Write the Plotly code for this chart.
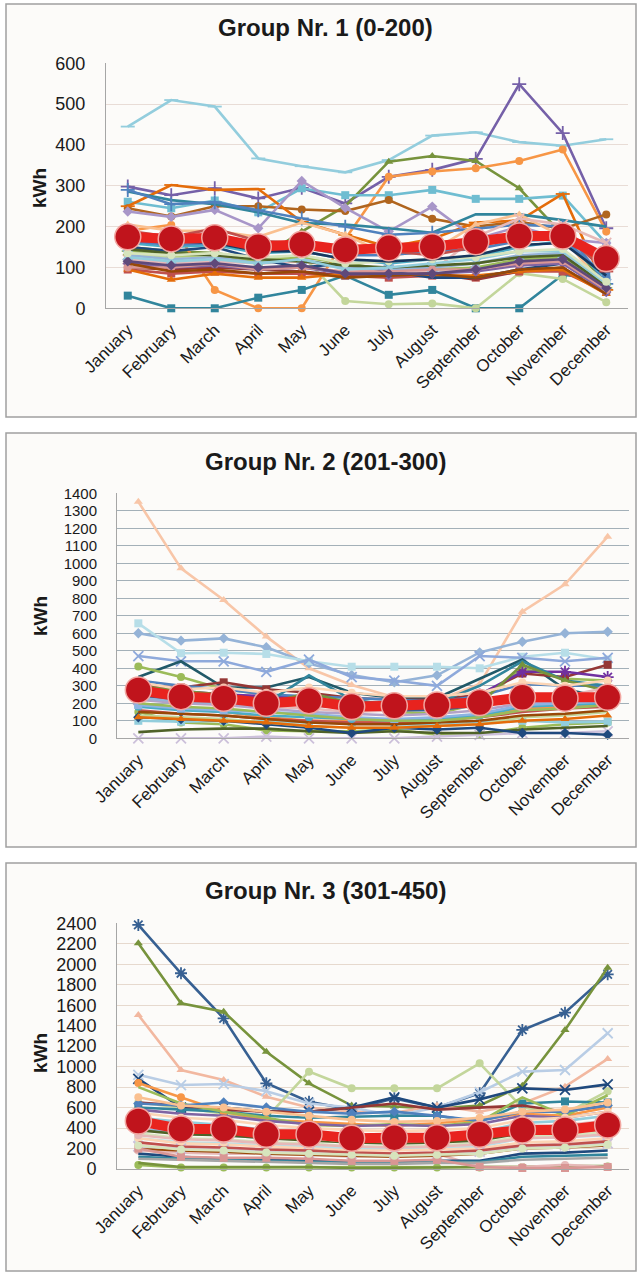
import plotly.graph_objects as go

months = ["January", "February", "March", "April", "May", "June", "July",
          "August", "September", "October", "November", "December"]

titles = ["Group Nr. 1 (0-200)", "Group Nr. 2 (201-300)", "Group Nr. 3 (301-450)"]
y_label = "kWh"
y_ticks_1 = [0, 100, 200, 300, 400, 500, 600]
y_ticks_2 = [0, 100, 200, 300, 400, 500, 600, 700, 800, 900, 1000, 1100, 1200, 1300, 1400]
y_ticks_3 = [0, 200, 400, 600, 800, 1000, 1200, 1400, 1600, 1800, 2000, 2200, 2400]

# ---------------- Group 1 (0-200) ----------------
g1_mean = [175, 170, 173, 151, 157, 143, 148, 151, 163, 177, 177, 122]
g1_rows = [
    [445, 510, 494, 367, 348, 333, 363, 423, 431, 407, 398, 414],
    [298, 277, 294, 269, 295, 257, 322, 339, 366, 549, 429, 196],
    [150, 140, 135, 120, 188, 250, 359, 373, 361, 294, 180, 60],
    [190, 204, 45, 0, 0, 170, 322, 335, 343, 361, 389, 188],
    [31, 0, 0, 26, 45, 80, 33, 45, 0, 0, 82, 70],
    [261, 245, 264, 235, 294, 277, 277, 290, 268, 268, 276, 159],
    [245, 225, 250, 250, 242, 238, 265, 219, 200, 212, 195, 230],
    [250, 302, 290, 292, 212, 180, 150, 170, 210, 215, 280, 45],
    [237, 224, 241, 196, 312, 246, 188, 249, 170, 200, 170, 160],
    [286, 265, 255, 235, 209, 205, 196, 185, 230, 230, 216, 200],
    [135, 125, 130, 120, 130, 18, 10, 12, 0, 86, 72, 15],
    [290, 255, 260, 240, 220, 200, 180, 185, 195, 205, 200, 60],
    [205, 190, 190, 175, 210, 180, 130, 140, 205, 230, 175, 45],
    [120, 110, 115, 110, 115, 100, 85, 90, 175, 220, 205, 160],
    [95, 85, 90, 85, 85, 80, 75, 80, 75, 90, 90, 40],
    [100, 95, 100, 95, 90, 80, 80, 85, 70, 90, 100, 35],
    [95, 70, 85, 75, 75, 85, 85, 80, 80, 90, 95, 35],
    [150, 140, 150, 120, 100, 110, 90, 75, 75, 95, 110, 70],
    [140, 130, 130, 115, 125, 110, 95, 95, 100, 120, 125, 50],
    [110, 100, 105, 95, 100, 85, 80, 85, 90, 105, 110, 40],
    [160, 150, 155, 135, 140, 120, 110, 120, 125, 150, 165, 75],
    [165, 155, 160, 145, 150, 130, 130, 140, 145, 165, 170, 80],
    [130, 120, 125, 110, 120, 100, 95, 100, 110, 130, 135, 60],
    [145, 135, 130, 120, 115, 105, 100, 105, 110, 125, 130, 55],
    [100, 100, 110, 95, 100, 90, 90, 95, 95, 110, 115, 45],
    [125, 115, 120, 110, 120, 95, 100, 110, 120, 140, 140, 60],
    [110, 90, 95, 85, 90, 75, 80, 85, 75, 95, 100, 35],
    [115, 105, 110, 100, 105, 85, 85, 85, 95, 115, 120, 50],
    [135, 130, 135, 125, 130, 110, 115, 120, 125, 140, 145, 65],
    [175, 165, 160, 140, 140, 120, 115, 120, 130, 155, 160, 80],
    [190, 175, 195, 165, 160, 150, 140, 130, 150, 175, 185, 90],
]

# ---------------- Group 2 (201-300) ----------------
g2_mean = [276, 238, 229, 200, 215, 181, 186, 190, 204, 234, 229, 234]
g2_rows = [
    [1352, 971, 790, 581, 400, 305, 235, 215, 310, 723, 880, 1152],
    [600, 558, 571, 520, 428, 362, 320, 360, 491, 552, 600, 609],
    [657, 486, 489, 482, 440, 409, 409, 409, 400, 466, 489, 450],
    [470, 440, 440, 380, 450, 350, 330, 300, 470, 460, 440, 460],
    [350, 440, 290, 290, 350, 260, 230, 230, 340, 450, 280, 230],
    [410, 350, 280, 250, 200, 180, 150, 140, 200, 400, 340, 330],
    [150, 90, 80, 45, 40, 40, 50, 20, 25, 60, 80, 90],
    [100, 95, 100, 95, 90, 90, 80, 75, 90, 100, 90, 95],
    [0, 0, 0, 10, 0, 0, 0, 10, 20, 30, 30, 40],
    [35, 50, 55, 55, 40, 30, 40, 30, 30, 50, 60, 70],
    [120, 110, 100, 80, 60, 30, 60, 50, 60, 30, 30, 20],
    [300, 290, 320, 280, 260, 230, 220, 220, 250, 370, 350, 420],
    [280, 270, 250, 240, 230, 200, 190, 190, 250, 380, 380, 350],
    [330, 300, 280, 250, 240, 230, 220, 210, 240, 310, 300, 300],
    [250, 230, 240, 200, 360, 220, 190, 200, 300, 440, 330, 300],
    [300, 270, 250, 200, 260, 200, 170, 180, 200, 420, 330, 270],
    [200, 170, 150, 120, 100, 100, 100, 110, 130, 170, 180, 200],
    [160, 140, 130, 110, 100, 90, 90, 100, 120, 150, 170, 180],
    [260, 230, 200, 180, 170, 150, 160, 170, 180, 250, 240, 290],
    [180, 160, 150, 130, 120, 110, 100, 110, 130, 180, 190, 200],
    [130, 120, 110, 90, 70, 60, 60, 70, 80, 120, 130, 150],
    [220, 200, 190, 170, 150, 140, 130, 140, 160, 200, 210, 230],
    [240, 220, 230, 200, 190, 170, 160, 160, 190, 220, 230, 250],
    [150, 140, 130, 110, 90, 80, 80, 90, 100, 130, 140, 160],
    [190, 170, 160, 150, 140, 120, 110, 120, 140, 190, 200, 210],
    [320, 280, 290, 260, 290, 260, 240, 240, 260, 320, 300, 330],
    [200, 180, 170, 150, 130, 110, 100, 100, 120, 160, 170, 190],
    [120, 110, 100, 90, 70, 60, 60, 70, 80, 100, 110, 130],
    [230, 210, 200, 190, 210, 200, 180, 170, 200, 230, 220, 240],
]

# ---------------- Group 3 (301-450) ----------------
g3_mean = [469, 391, 391, 339, 339, 300, 306, 306, 339, 381, 381, 430]
g3_rows = [
    [2384, 1912, 1472, 837, 657, 580, 690, 600, 740, 1358, 1527, 1902],
    [2205, 1619, 1537, 1146, 837, 620, 610, 590, 620, 814, 1358, 1967],
    [1505, 967, 870, 706, 600, 560, 550, 620, 560, 640, 804, 1075],
    [920, 820, 830, 760, 640, 600, 520, 600, 750, 951, 967, 1326],
    [650, 600, 540, 500, 951, 788, 788, 788, 1032, 600, 540, 760],
    [880, 600, 600, 560, 560, 600, 700, 600, 680, 788, 772, 827],
    [600, 580, 560, 520, 500, 510, 520, 520, 460, 640, 660, 650],
    [650, 620, 580, 560, 560, 600, 640, 580, 600, 620, 560, 620],
    [840, 700, 560, 480, 460, 440, 420, 450, 480, 540, 520, 600],
    [800, 640, 560, 500, 430, 420, 440, 420, 460, 700, 520, 720],
    [640, 620, 650, 600, 560, 540, 560, 520, 470, 560, 560, 620],
    [580, 540, 520, 470, 440, 420, 430, 420, 440, 520, 500, 560],
    [40, 15, 15, 15, 15, 15, 15, 15, 15, 20, 20, 25],
    [60, 20, 20, 20, 20, 10, 10, 15, 20, 20, 30, 30],
    [180, 160, 150, 150, 140, 120, 130, 150, 20, 20, 40, 20],
    [150, 120, 100, 90, 80, 70, 60, 80, 80, 150, 160, 180],
    [250, 220, 200, 180, 170, 150, 150, 160, 180, 250, 260, 280],
    [300, 260, 250, 230, 220, 200, 190, 200, 220, 300, 310, 330],
    [350, 300, 290, 260, 250, 220, 220, 230, 250, 320, 330, 360],
    [400, 350, 330, 300, 290, 260, 260, 270, 300, 380, 390, 420],
    [450, 400, 380, 340, 330, 300, 300, 300, 340, 420, 430, 470],
    [120, 100, 90, 80, 70, 60, 60, 70, 70, 120, 130, 140],
    [300, 250, 240, 220, 200, 180, 180, 190, 200, 260, 270, 300],
    [200, 180, 170, 150, 140, 130, 120, 130, 150, 200, 210, 230],
    [220, 200, 190, 170, 160, 150, 150, 150, 170, 220, 230, 250],
    [260, 220, 210, 190, 180, 160, 150, 160, 180, 230, 240, 270],
    [500, 460, 430, 380, 360, 330, 320, 330, 360, 450, 470, 520],
    [100, 90, 80, 70, 60, 50, 50, 60, 60, 90, 100, 110],
    [700, 620, 600, 560, 520, 480, 460, 470, 500, 560, 580, 650],
    [380, 340, 330, 300, 280, 260, 250, 260, 280, 350, 360, 390],
    [200, 120, 110, 110, 100, 80, 80, 90, 20, 10, 10, 20],
    [550, 500, 480, 430, 400, 380, 370, 380, 400, 480, 500, 560],
    [420, 380, 360, 320, 300, 270, 270, 280, 310, 380, 390, 430],
    [330, 290, 280, 250, 240, 220, 210, 220, 240, 300, 310, 340],
    [230, 190, 180, 160, 150, 140, 130, 140, 150, 200, 210, 240],
]

# ---------------- styles (separate from data) ----------------
g1_colors = ["#93CDDD", "#7560A8", "#77933C", "#F79646", "#31859C", "#6FBDD1",
             "#B0651E", "#E46C0A", "#A896C8", "#31859C", "#C3D69B", "#4F81BD",
             "#FAC090", "#E6B9B8", "#C0504D", "#953735", "#E46C0A", "#1F497D",
             "#9BBB59", "#8064A2", "#4BACC6", "#4F81BD", "#95B3D7", "#4F6228",
             "#D99694", "#92CDDC", "#984807", "#5F497A", "#D7E4BD", "#17375E", "#C0504D"]
g1_symbols = ["line-ew-open", "cross-thin-open", "triangle-up", "circle", "square", "square",
              "circle", "line-ew-open", "diamond", "none", "circle", "cross-thin-open",
              "triangle-up", "x-thin-open", "square", "none", "triangle-up", "none",
              "asterisk-open", "diamond", "circle", "square", "x-thin-open", "none",
              "circle", "triangle-up", "none", "diamond", "circle", "none", "line-ew-open"]

g2_colors = ["#F8C6A8", "#95B3D7", "#B7DEE8", "#8EA9DB", "#215968", "#9BBB59",
             "#9BBB59", "#92CDDC", "#CCC0DA", "#4F6228", "#1F497D", "#953735",
             "#7030A0", "#4F81BD", "#31859C", "#77933C", "#F79646", "#C0504D",
             "#E6B9B8", "#4BACC6", "#C3D69B", "#B3A2C7", "#376092", "#984807",
             "#8DB3E2", "#FCD5B5", "#9BBB59", "#E46C0A", "#95B3D7"]
g2_symbols = ["triangle-up", "diamond", "square", "x-thin-open", "none", "circle",
              "circle", "square", "x-thin-open", "none", "diamond", "square",
              "asterisk-open", "none", "none", "triangle-up", "circle", "none",
              "circle", "circle", "none", "x-thin-open", "none", "none",
              "square", "circle", "none", "triangle-up", "square"]

g3_colors = ["#376092", "#77933C", "#F2B8A0", "#B9CDE5", "#C3D69B", "#1F497D",
             "#31859C", "#953735", "#F79646", "#9BBB59", "#4F81BD", "#8064A2",
             "#9BBB59", "#77933C", "#E6B9B8", "#1F497D", "#F2DCDB", "#B7DEE8",
             "#D7E4BD", "#95B3D7", "#E6B9B8", "#31859C", "#FCD5B5", "#984807",
             "#CCC0DA", "#C0504D", "#92CDDC", "#A6A6A6", "#FAC090", "#4F6228", "#D99694",
             "#FCD5B5", "#DBEEF4", "#E6B9B8", "#D7E4BD"]
g3_symbols = ["asterisk-open", "triangle-up", "triangle-up", "x-thin-open", "circle", "x-thin-open",
              "square", "none", "circle", "none", "diamond", "none",
              "circle", "none", "circle", "none", "square", "square",
              "circle", "x-thin-open", "circle", "none", "circle", "none",
              "x-thin-open", "none", "square", "none", "circle", "none", "square",
              "circle", "square", "circle", "circle"]

FONT = "Liberation Sans, Arial, sans-serif"
W, H = 638, 1272

groups = [
    (g1_rows, g1_mean, g1_colors, g1_symbols),
    (g2_rows, g2_mean, g2_colors, g2_symbols),
    (g3_rows, g3_mean, g3_colors, g3_symbols),
]

fig = go.Figure()
for gi, (rows, mean, cols, syms) in enumerate(groups):
    xa = "x" if gi == 0 else f"x{gi + 1}"
    ya = "y" if gi == 0 else f"y{gi + 1}"
    for vals, c, s in zip(rows, cols, syms):
        openish = s.endswith("-open")
        if s == "none":
            mode = "lines"
            marker = None
        else:
            mode = "lines+markers"
            marker = dict(symbol=s, size=8 if not openish else 10, color=c,
                          line=dict(color=c, width=1.8 if openish else 0))
        fig.add_trace(go.Scatter(x=months, y=vals, mode=mode, xaxis=xa, yaxis=ya,
                                 line=dict(color=c, width=2.6), marker=marker,
                                 cliponaxis=False, showlegend=False, hoverinfo="skip"))
    fig.add_trace(go.Scatter(x=months, y=mean, mode="lines+markers", xaxis=xa, yaxis=ya,
                             line=dict(color="#E8231E", width=10),
                             marker=dict(symbol="circle", size=26, color="#C0141C",
                                         line=dict(color="#F2A6A0", width=1.5)),
                             cliponaxis=False, showlegend=False, hoverinfo="skip"))

def py(p):
    return 1 - p / H

# plot area geometry in pixels
panels = [
    dict(x0=106, x1=628, top=63.3, bot=308.3, rng=600, ticks=y_ticks_1, tfs=18,
         grid="#E8DCD6", box=(4, 417), title_y=28, kwh_y=188),
    dict(x0=117, x1=629, top=493.3, bot=738.3, rng=1400, ticks=y_ticks_2, tfs=15,
         grid="#A3B0B8", box=(433, 847), title_y=462, kwh_y=616),
    dict(x0=117, x1=629, top=923.3, bot=1169, rng=2400, ticks=y_ticks_3, tfs=18,
         grid="#E6D9CE", box=(863, 1271), title_y=890, kwh_y=1053),
]

layout = dict(width=W, height=H, margin=dict(l=0, r=0, t=0, b=0, pad=0, autoexpand=False),
              paper_bgcolor="white", plot_bgcolor="rgba(0,0,0,0)",
              font=dict(family=FONT, color="#1a1a1a"), shapes=[], annotations=[])
for i, p in enumerate(panels):
    sx = "" if i == 0 else str(i + 1)
    layout["xaxis" + sx] = dict(domain=[p["x0"] / W, p["x1"] / W], anchor="y" + sx,
                                type="category", categoryorder="array", categoryarray=months,
                                range=[-0.5, 11.5], showgrid=False, showline=True,
                                linecolor="#A6A6A6", linewidth=1, ticks="",
                                tickangle=-45, tickfont=dict(size=17, family=FONT, color="#1a1a1a"),
                                ticklabelstandoff=4, automargin=False, fixedrange=True)
    layout["yaxis" + sx] = dict(domain=[py(p["bot"]), py(p["top"])], anchor="x" + sx,
                                range=[0, p["rng"]], tickmode="array", tickvals=p["ticks"],
                                ticktext=[str(t) for t in p["ticks"]],
                                showgrid=True, gridcolor=p["grid"], gridwidth=1.2,
                                zeroline=False, showline=True, linecolor="#A6A6A6",
                                linewidth=1, ticks="", ticklabelstandoff=16,
                                tickfont=dict(size=p["tfs"], family=FONT, color="#1a1a1a"),
                                automargin=False, fixedrange=True)
    b0, b1 = p["box"]
    layout["shapes"].append(dict(type="rect", xref="paper", yref="paper",
                                 x0=6 / W, x1=636 / W, y0=py(b1), y1=py(b0),
                                 line=dict(color="#A0A0A0", width=1.5),
                                 fillcolor="#FCFBF9", layer="below"))
    layout["annotations"].append(dict(text="<b>" + titles[i] + "</b>", xref="paper", yref="paper",
                                      x=325 / W, y=py(p["title_y"]), xanchor="center",
                                      yanchor="middle", showarrow=False,
                                      font=dict(size=24, family=FONT, color="#1a1a1a")))
    layout["annotations"].append(dict(text="<b>" + y_label + "</b>", xref="paper", yref="paper",
                                      x=40 / W, y=py(p["kwh_y"]), xanchor="center",
                                      yanchor="middle", textangle=-90, showarrow=False,
                                      font=dict(size=19, family=FONT, color="#1a1a1a")))

fig.update_layout(**layout)
fig.write_html("out.html", config={"displayModeBar": False},
               post_script="document.body.style.margin='0';document.body.style.overflow='hidden';")
